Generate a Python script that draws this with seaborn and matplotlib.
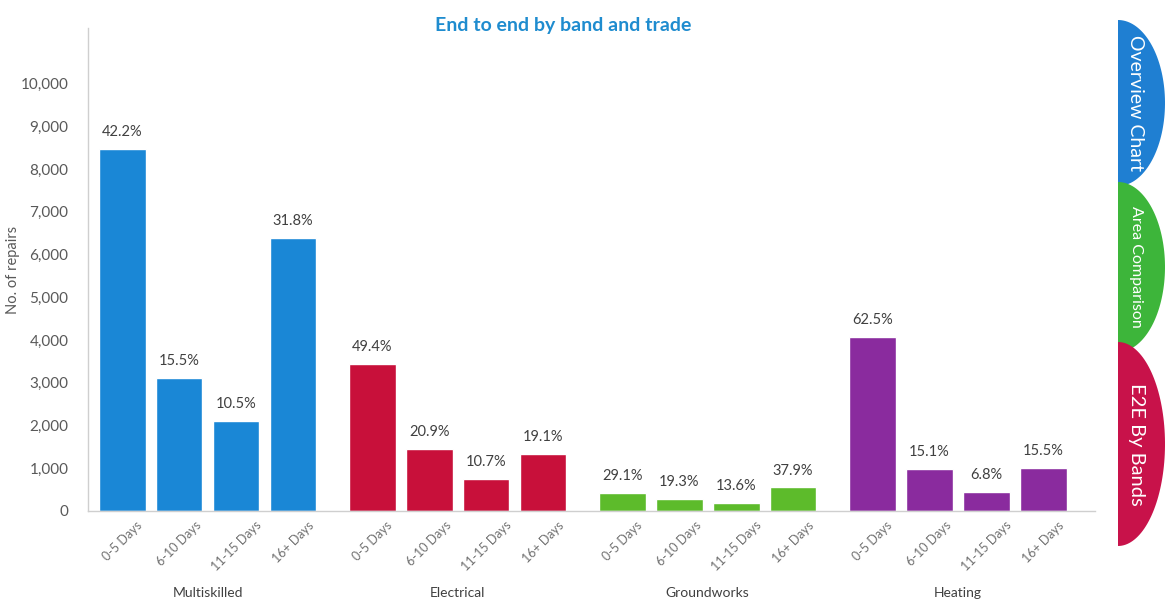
import numpy as np
import pandas as pd
import matplotlib
matplotlib.use("Agg")
import matplotlib.pyplot as plt
from matplotlib.patches import Polygon
from matplotlib.ticker import FuncFormatter
import seaborn as sns

# ---- data ----
trades = ["Multiskilled", "Electrical", "Groundworks", "Heating"]
bands = ["0-5 Days", "6-10 Days", "11-15 Days", "16+ Days"]
multiskilled = [8480, 3115, 2110, 6390]
electrical = [3440, 1457, 746, 1331]
groundworks = [422, 280, 197, 550]
heating = [4070, 985, 440, 1005]
pct_multiskilled = ["42.2%", "15.5%", "10.5%", "31.8%"]
pct_electrical = ["49.4%", "20.9%", "10.7%", "19.1%"]
pct_groundworks = ["29.1%", "19.3%", "13.6%", "37.9%"]
pct_heating = ["62.5%", "15.1%", "6.8%", "15.5%"]
y_ticks = list(range(0, 10001, 1000))
title = "End to end by band and trade"
y_label = "No. of repairs"
tabs = ["Overview Chart", "Area Comparison", "E2E By Bands"]

colors = {"Multiskilled": "#1a87d6", "Electrical": "#c8103a",
          "Groundworks": "#5dbb2b", "Heating": "#8a2b9e"}

values = [multiskilled, electrical, groundworks, heating]
pcts = [pct_multiskilled, pct_electrical, pct_groundworks, pct_heating]

GROUP_STEP = 4.39
rows = []
for gi, (t, vals, ps) in enumerate(zip(trades, values, pcts)):
    for bi, (b, v, p) in enumerate(zip(bands, vals, ps)):
        rows.append({"trade": t, "band": b, "value": v, "pct": p,
                     "pos": gi * GROUP_STEP + bi})
df = pd.DataFrame(rows)

sns.set_theme(style="white")
plt.rcParams["font.family"] = ["Lato", "DejaVu Sans"]

W, H = 1167, 603
fig = plt.figure(figsize=(W / 100, H / 100), dpi=100)
ax = fig.add_axes([88 / W, 1 - 511 / H, (1095 - 88) / W, (511 - 28) / H])

sns.barplot(data=df, x="pos", y="value", hue="trade", palette=colors,
            native_scale=True, dodge=False, width=0.82, legend=False,
            saturation=1, ax=ax)

ax.set_xlim(-0.6, 3 * GROUP_STEP + 3 + 0.91)
ax.set_ylim(0, 11300)
ax.set_yticks(y_ticks)
ax.yaxis.set_major_formatter(FuncFormatter(lambda v, _: f"{int(v):,}"))
ax.tick_params(axis="y", length=0, pad=14, labelsize=11, labelcolor="#595959")
ax.set_xticks(df["pos"])
ax.set_xticklabels(df["band"], rotation=45, ha="center", fontsize=9,
                   color="#707070")
ax.tick_params(axis="x", length=0, pad=6)
ax.set_xlabel("")
ax.set_ylabel(y_label, fontsize=10.5, color="#595959", labelpad=8)
ax.yaxis.set_label_coords(-0.068, 0.5)

for s in ["top", "right"]:
    ax.spines[s].set_visible(False)
for s in ["left", "bottom"]:
    ax.spines[s].set_color("#cfcfcf")
    ax.spines[s].set_linewidth(1)

# percentage labels
for _, r in df.iterrows():
    ax.annotate(r["pct"], (r["pos"], r["value"]), xytext=(0, 7),
                textcoords="offset points", ha="center", va="bottom",
                fontsize=10.5, color="#404040")

# trade names below groups
for gi, t in enumerate(trades):
    ax.text(gi * GROUP_STEP + 1.5, -0.17, t, transform=ax.get_xaxis_transform(),
            ha="center", va="center", fontsize=10, color="#404040")

fig.text(563 / W, 1 - 25 / H, title, ha="center", va="center",
         fontsize=14, fontweight="bold", color="#1f8ccf")

# decorative navigation tabs on right
ov = fig.add_axes([0, 0, 1, 1], zorder=5)
ov.set_xlim(0, W)
ov.set_ylim(H, 0)
ov.axis("off")
ov.patch.set_alpha(0)
tab_specs = [(20, 186, "#1f7fd2", 14), (182, 352, "#3db53a", 11.5),
             (342, 546, "#c8124a", 14.5)]
tab_order = [1, 2, 0]
for idx in tab_order:
    y0, y1, col, fs = tab_specs[idx]
    th = np.linspace(-np.pi / 2, np.pi / 2, 80)
    cy, ry = (y0 + y1) / 2, (y1 - y0) / 2
    xs = list(1118 + 47 * np.cos(th)) + [1118]
    ys = list(cy + ry * np.sin(th)) + [cy - ry]
    ov.add_patch(Polygon(np.column_stack([xs, ys]), closed=True,
                         facecolor=col, edgecolor="none", zorder=idx + 1))
for idx in [0, 1, 2]:
    y0, y1, col, fs = tab_specs[idx]
    ov.text(1136, (y0 + y1) / 2, tabs[idx], rotation=-90, ha="center",
            va="center", color="white", fontsize=fs, fontweight="normal",
            zorder=10)

fig.savefig("out.png", dpi=100)
